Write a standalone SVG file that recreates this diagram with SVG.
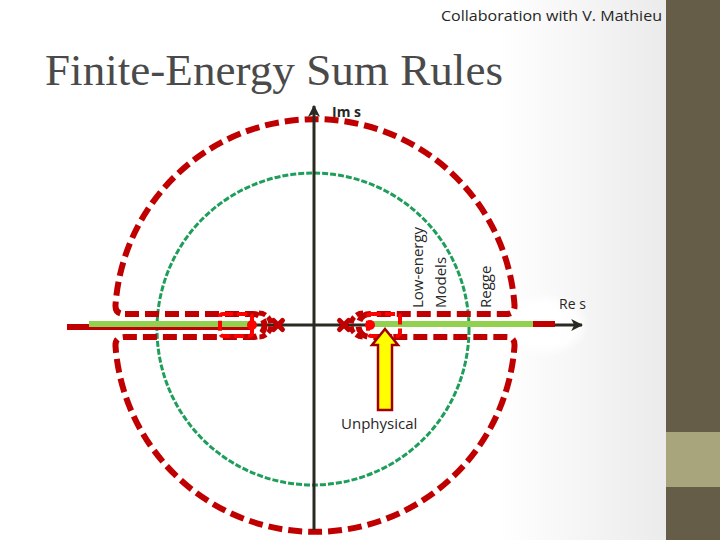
<svg xmlns="http://www.w3.org/2000/svg" width="720" height="540" viewBox="0 0 720 540">
<defs>
<linearGradient id="bg" x1="0" y1="0" x2="666" y2="0" gradientUnits="userSpaceOnUse">
<stop offset="0" stop-color="#ffffff"/>
<stop offset="0.75" stop-color="#ffffff"/>
<stop offset="1" stop-color="#ebebeb"/>
</linearGradient>
<radialGradient id="glow">
<stop offset="0" stop-color="#ffffff" stop-opacity="1"/>
<stop offset="0.7" stop-color="#ffffff" stop-opacity="0.9"/>
<stop offset="1" stop-color="#ffffff" stop-opacity="0"/>
</radialGradient>
<marker id="ah" viewBox="0 0 10 10" refX="9" refY="5" markerWidth="4" markerHeight="4" orient="auto" markerUnits="strokeWidth">
<path d="M0 0 L10 5 L0 10 L2.5 5 Z" fill="#2b2a22"/>
</marker>
<style>
.t{font-family:"Open Sans","Liberation Sans",sans-serif;fill:#262626}
.contour{fill:none;stroke:#C00000;stroke-width:6;stroke-dasharray:14 6}
.bright{fill:none;stroke:#FF0000;stroke-width:4;stroke-dasharray:10 4}
.axis{stroke:#2b2a22;stroke-width:3;fill:none}
.cut{stroke:#C00000;stroke-width:6}
.bar{fill:#92D050}
.x{stroke:#C00000;stroke-width:5;stroke-linecap:round}
.arc{fill:none;stroke:#C00000;stroke-width:5;stroke-dasharray:7 3}
</style>
</defs>
<rect x="0" y="0" width="720" height="540" fill="url(#bg)"/>
<ellipse cx="545" cy="325" rx="45" ry="32" fill="url(#glow)"/>
<rect x="666" y="0" width="54" height="540" fill="#655D47"/>
<rect x="666" y="432" width="54" height="55" fill="#A8A57D"/>

<text class="t" x="441" y="21" font-size="15" textLength="221" lengthAdjust="spacingAndGlyphs">Collaboration with V. Mathieu</text>
<text x="45" y="85" font-family="Liberation Serif,serif" font-size="44" fill="#4a4a4a" textLength="458" lengthAdjust="spacingAndGlyphs">Finite-Energy Sum Rules</text>

<g id="green-circle">
<circle cx="313" cy="329" r="156" fill="none" stroke="#1E9E5A" stroke-width="3" stroke-dasharray="6 2"/>
</g>

<g id="connectors">
<line class="axis" x1="100" y1="325" x2="555" y2="325"/>
<line class="axis" x1="553" y1="325" x2="582" y2="325" marker-end="url(#ah)"/>
</g>

<g id="cuts">
<line class="cut" x1="67" y1="327" x2="250" y2="327"/>
<line class="cut" x1="400" y1="324" x2="555" y2="324"/>
<rect class="bar" x="89" y="321" width="163" height="6"/>
<rect class="bar" x="370" y="321" width="163" height="6"/>
</g>

<g id="contour">
<path class="contour" d="M125 314 L253 314 A11.5 11.5 0 0 1 253 337 L125 337 Q115 337 115.5 346 A200 200 0 0 0 514.5 346 Q515 337 507 337 L370 337 A11.5 11.5 0 0 1 370 314 L507 314 Q515 314 514.5 305 A200 200 0 0 0 115.5 305 Q115 314 125 314 Z"/>
</g>

<g id="im-axis">
<line class="axis" x1="314" y1="530" x2="314" y2="106" marker-end="url(#ah)"/>
</g>

<g id="thresholds">
<rect class="bright" x="220" y="314" width="32" height="22" rx="3"/>
<rect class="bright" x="368" y="314" width="32" height="22" rx="3"/>
<circle cx="252" cy="325" r="5" fill="#FF0000"/>
<circle cx="370" cy="325" r="5" fill="#FF0000"/>
<path class="arc" d="M259 313 A12 12 0 0 1 259 337"/>
<path class="arc" d="M363 313 A12 12 0 0 0 363 337"/>
</g>

<g id="poles">
<path class="x" d="M273.5 320.5 L282.5 329.5 M282.5 320.5 L273.5 329.5"/>
<path class="x" d="M339.5 320.5 L348.5 329.5 M348.5 320.5 L339.5 329.5"/>
</g>

<g id="unphysical-arrow">
<path d="M378 410 L392 410 L392 345 L398 345 L385 329 L372 345 L378 345 Z" fill="#FFFF00" stroke="#A00000" stroke-width="2.5" stroke-linejoin="miter"/>
</g>

<g id="labels">
<text class="t" x="332" y="117" font-size="14" font-weight="bold">Im s</text>
<text class="t" x="559" y="309" font-size="14">Re s</text>
<text class="t" x="341" y="429" font-size="15">Unphysical</text>
<text class="t" font-size="15" transform="translate(423,308) rotate(-90)">Low-energy</text>
<text class="t" font-size="15" transform="translate(446,308) rotate(-90)">Models</text>
<text class="t" font-size="15" transform="translate(491,308) rotate(-90)">Regge</text>
</g>
</svg>
